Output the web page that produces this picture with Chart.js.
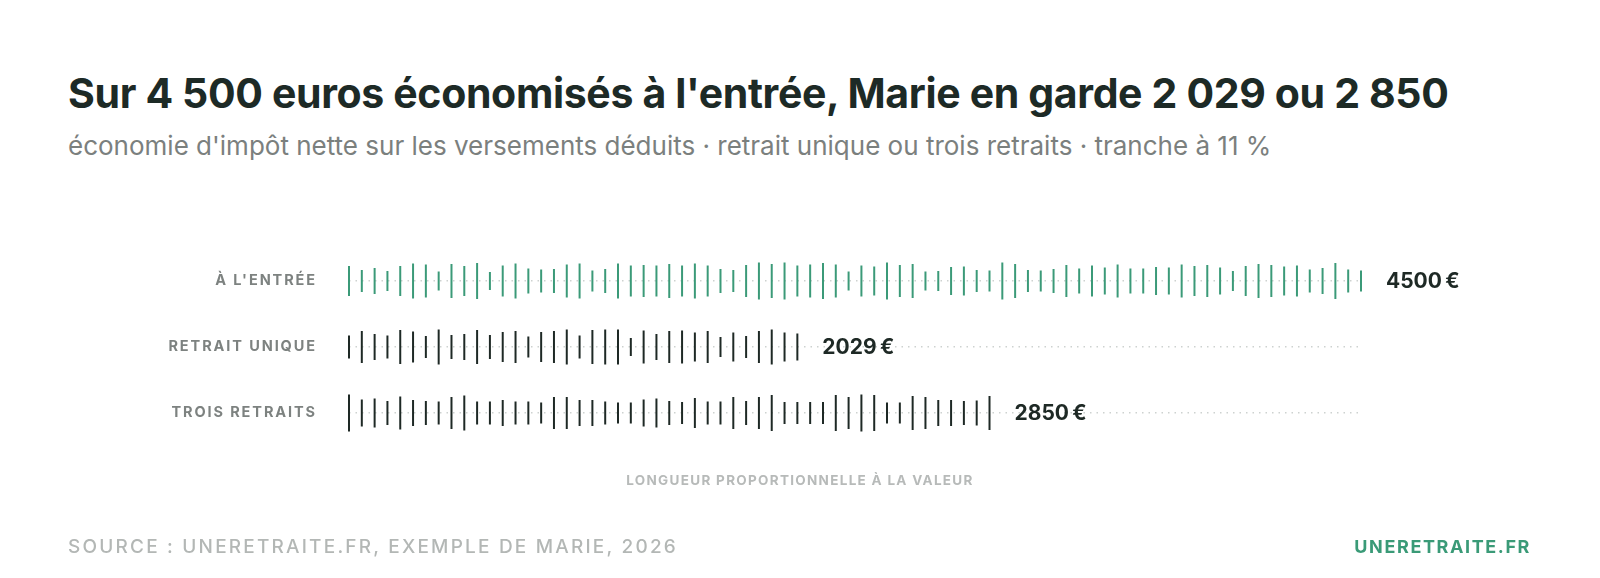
<!DOCTYPE html>
<html lang="fr">
<head>
<meta charset="utf-8">
<title>Économie d'impôt de Marie</title>
<script src="https://cdn.jsdelivr.net/npm/chart.js@4.4.1/dist/chart.umd.min.js"></script>
<style>
  html, body { margin: 0; padding: 0; background: #fff; }
  body { width: 1600px; height: 578px; position: relative; overflow: hidden; font-family: Inter, "Noto Sans", sans-serif; }
  #chart { position: absolute; left: 0; top: 0; }
  .title { position: absolute; left: 68px; top: 69px; font-size: 41px; font-weight: 700; color: #1d2a26; letter-spacing: -0.35px; line-height: 48px; white-space: nowrap; }
  .subtitle { position: absolute; left: 68px; top: 130px; font-size: 26px; color: #7b807e; line-height: 32px; white-space: nowrap; }
  .note { position: absolute; left: 0; width: 1600px; text-align: center; top: 471px; font-size: 13.5px; font-weight: 700; color: #b7bab9; letter-spacing: 1.3px; line-height: 18px; }
  .source { position: absolute; left: 68px; top: 535px; font-size: 19px; font-weight: 500; color: #b3b7b5; letter-spacing: 2.2px; line-height: 24px; }
  .brand { position: absolute; right: 69px; top: 535px; font-size: 18px; font-weight: 700; color: #3a9a77; letter-spacing: 1.6px; line-height: 24px; }
</style>
</head>
<body>
<div class="title">Sur 4 500 euros économisés à l'entrée, Marie en garde 2 029 ou 2 850</div>
<div class="subtitle">économie d'impôt nette sur les versements déduits · retrait unique ou trois retraits · tranche à 11 %</div>
<canvas id="chart" width="1600" height="578"></canvas>
<div class="note">LONGUEUR PROPORTIONNELLE À LA VALEUR</div>
<div class="source">SOURCE : UNERETRAITE.FR, EXEMPLE DE MARIE, 2026</div>
<div class="brand">UNERETRAITE.FR</div>

<script>
// lignes du graphique
const rows = ["À L'ENTRÉE", "RETRAIT UNIQUE", "TROIS RETRAITS"];
const values = [4500, 2029, 2850];
const valueLabels = ["4500\u202F€", "2029\u202F€", "2850\u202F€"];

// hauteur de chaque trait (px)
const ticksEntree = [30, 22, 26, 20, 30, 35, 33, 19, 34, 30, 36, 18, 31, 35, 25, 23, 24, 33, 35, 21,
  24, 35, 31, 32, 31, 34, 31, 35, 31, 24, 22, 32, 37, 34, 37, 31, 33, 36, 33, 19,
  31, 29, 37, 32, 34, 19, 20, 28, 29, 22, 21, 37, 34, 22, 21, 24, 32, 25, 31, 27,
  33, 25, 25, 28, 27, 33, 30, 32, 27, 20, 30, 34, 32, 29, 31, 23, 26, 36, 23, 21];
const ticksUnique = [23, 32, 26, 23, 34, 31, 22, 35, 24, 26, 34, 24, 30, 32, 21, 30, 32, 35, 23, 34,
  35, 35, 18, 33, 26, 32, 33, 29, 32, 20, 29, 22, 32, 35, 29, 27];
const ticksTrois = [37, 27, 29, 24, 33, 26, 24, 23, 32, 35, 23, 23, 26, 23, 23, 21, 32, 32, 26, 26,
  23, 21, 21, 27, 29, 24, 22, 30, 23, 23, 32, 24, 32, 36, 22, 22, 22, 22, 36, 32,
  37, 36, 21, 21, 34, 32, 26, 26, 24, 25, 34];

const series = [ticksEntree, ticksUnique, ticksTrois];
const colors = ["#3b9a78", "#1e2925", "#1e2925"];
// un trait par pas, même pas pour les trois lignes
const tickStep = values[0] / (ticksEntree.length - 1);

const datasets = series.map((heights, r) => ({
    label: rows[r],
    data: heights.map((h, i) => ({ x: i * tickStep, y: rows[r] })),
    showLine: false,
    pointStyle: "line",
    pointRotation: 90,
    pointRadius: heights.map(h => h / 2),
    pointHoverRadius: heights.map(h => h / 2),
    pointBorderWidth: 2,
    pointHoverBorderWidth: 2,
    pointBorderColor: colors[r],
    pointBackgroundColor: colors[r],
    clip: false
}));

// espacement des lettres pour les libellés des lignes
const letterSpacingPlugin = {
    id: "letterSpacing",
    beforeDraw(chart) { chart.ctx.letterSpacing = "1.9px"; },
    afterDraw(chart) { chart.ctx.letterSpacing = "0px"; }
};

// montant à droite du dernier trait
const valueLabelPlugin = {
    id: "valueLabels",
    afterDatasetsDraw(chart) {
        const c = chart.ctx;
        c.save();
        c.font = "700 21px Inter";
        c.letterSpacing = "3.8px";
        c.fillStyle = "#1e2925";
        c.textBaseline = "middle";
        c.textAlign = "left";
        chart.data.datasets.forEach((ds, r) => {
            const pts = chart.getDatasetMeta(r).data;
            const last = pts[pts.length - 1];
            c.fillText(valueLabels[r], last.x + 25, last.y + 1);
        });
        c.restore();
    }
};

new Chart(document.getElementById("chart").getContext("2d"), {
    type: "scatter",
    data: { datasets: datasets },
    options: {
        responsive: false,
        animation: false,
        events: [],
        layout: { padding: { top: 248, right: 239, bottom: 132, left: 0 } },
        plugins: {
            legend: { display: false },
            tooltip: { enabled: false }
        },
        scales: {
            x: { type: "linear", min: 0, max: values[0], display: false },
            y: {
                type: "category",
                labels: rows,
                offset: true,
                grid: { offset: false, color: "#cdd2d0", lineWidth: 1.5, drawTicks: false },
                border: { display: false, dash: [1.5, 5] },
                ticks: {
                    color: "#7d8280",
                    padding: 32,
                    font: { family: "Inter", size: 14.5, weight: "700" }
                },
                afterFit(scale) { scale.width = 349; }
            }
        }
    },
    plugins: [letterSpacingPlugin, valueLabelPlugin]
});
</script>
</body>
</html>
